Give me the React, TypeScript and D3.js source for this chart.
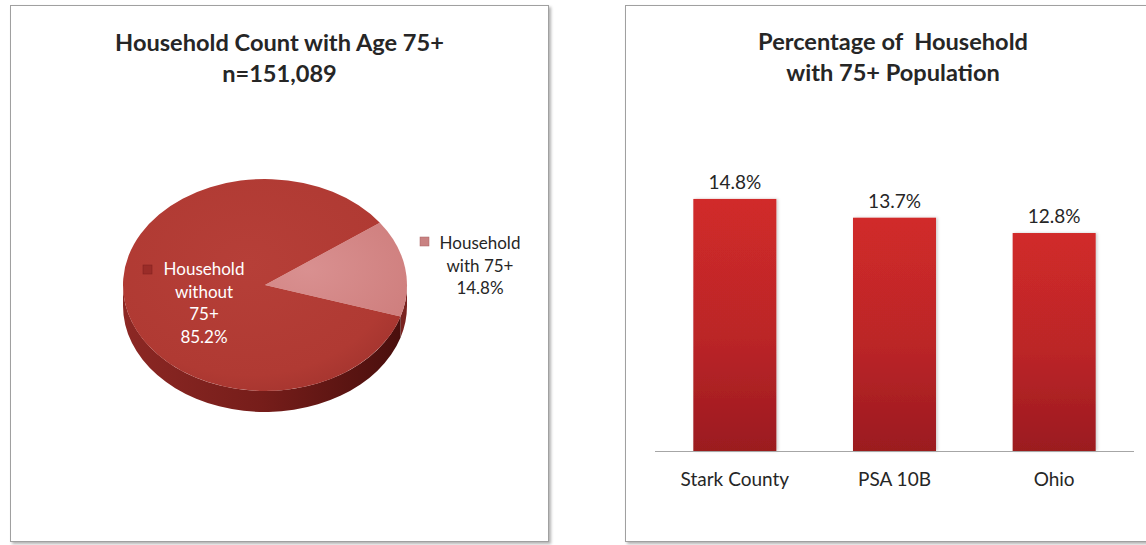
import * as d3 from 'd3';

// Pie data
const pieLabels = ['Household with 75+', 'Household without 75+'];
const pieValues = [14.8, 85.2];

// Bar data
const barCategories = ['Stark County', 'PSA 10B', 'Ohio'];
const barValues = [14.8, 13.7, 12.8];

const W = 1146;
const H = 545;
const FONT = 'Lato, "Open Sans", sans-serif';
const TEXT = '#262626';

function PieChart() {
  const cx = 265;
  const cy = 285;
  const rx = 142;
  const ry = 106;
  const depth = 21;

  const start = (54 * Math.PI) / 180;
  const pie = d3
    .pie<number>()
    .sort(null)
    .startAngle(start)
    .endAngle(start + 2 * Math.PI);
  const arcs = pie(pieValues);

  const pt = (a: number, dy = 0) => [cx + rx * Math.sin(a), cy - ry * Math.cos(a) + dy];

  const topPath = (a0: number, a1: number) => {
    const p0 = pt(a0);
    const p1 = pt(a1);
    const large = a1 - a0 > Math.PI ? 1 : 0;
    return `M${cx},${cy}L${p0[0]},${p0[1]}A${rx},${ry} 0 ${large} 1 ${p1[0]},${p1[1]}Z`;
  };

  // side wall, only the front half (90deg..270deg) is visible
  const sidePath = (a0: number, a1: number) => {
    const segs: string[] = [];
    for (const k of [0, 2 * Math.PI]) {
      const b0 = Math.max(a0, Math.PI / 2 + k);
      const b1 = Math.min(a1, (3 * Math.PI) / 2 + k);
      if (b1 <= b0) continue;
      const p0 = pt(b0);
      const p1 = pt(b1);
      const q0 = pt(b0, depth);
      const q1 = pt(b1, depth);
      segs.push(
        `M${p0[0]},${p0[1]}A${rx},${ry} 0 0 1 ${p1[0]},${p1[1]}L${q1[0]},${q1[1]}A${rx},${ry} 0 0 0 ${q0[0]},${q0[1]}Z`,
      );
    }
    return segs.join('');
  };

  const topFill = ['url(#pieLight)', 'url(#pieDark)'];
  const sideFill = ['#7a2320', 'url(#pieSide)'];

  return (
    <g>
      <defs>
        <radialGradient id='pieDark' cx='0.45' cy='0.4' r='0.7'>
          <stop offset='0%' stopColor='#b63f38' />
          <stop offset='75%' stopColor='#b03a33' />
          <stop offset='100%' stopColor='#a0322d' />
        </radialGradient>
        <radialGradient id='pieLight' cx='0.3' cy='0.5' r='0.8'>
          <stop offset='0%' stopColor='#d99090' />
          <stop offset='100%' stopColor='#cf7f7e' />
        </radialGradient>
        <linearGradient id='pieSide' x1='0' x2='1' y1='0' y2='0'>
          <stop offset='0%' stopColor='#8c2824' />
          <stop offset='50%' stopColor='#761d1a' />
          <stop offset='100%' stopColor='#4a0f0d' />
        </linearGradient>
      </defs>
      {arcs.map((a, i) => (
        <path key={`s${i}`} d={sidePath(a.startAngle, a.endAngle)} fill={sideFill[i]} />
      ))}
      {arcs.map((a, i) => (
        <path key={`t${i}`} d={topPath(a.startAngle, a.endAngle)} fill={topFill[i]} />
      ))}

      {/* label inside: without 75+ */}
      <rect x={143} y={265} width={9} height={9} fill='#9a2c28' stroke='#7d1f1c' strokeWidth={0.5} />
      <text fontFamily={FONT} fontSize={17} fill='#ffffff' textAnchor='middle'>
        {['Household', 'without', '75+', `${pieValues[1]}%`].map((t, i) => (
          <tspan key={i} x={204} y={275 + i * 22.7}>
            {t}
          </tspan>
        ))}
      </text>

      {/* label outside: with 75+ */}
      <rect x={420} y={237} width={9} height={9} fill='#c98282' stroke='#a86060' strokeWidth={0.5} />
      <text fontFamily={FONT} fontSize={17} fill={TEXT} textAnchor='middle'>
        {['Household', 'with 75+', `${pieValues[0]}%`].map((t, i) => (
          <tspan key={i} x={480} y={249 + i * 22.5}>
            {t}
          </tspan>
        ))}
      </text>
    </g>
  );
}

function BarChart() {
  const baseline = 451;
  const x = d3
    .scaleBand<string>()
    .domain(barCategories)
    .range([655, 1134])
    .paddingInner(0.48)
    .paddingOuter(0.24);

  const y = d3.scaleLinear().domain([0, 16]).range([baseline, baseline - 16 * 17.03]);

  return (
    <g>
      <defs>
        <linearGradient id='barGrad' x1='0' x2='0' y1='0' y2='1'>
          <stop offset='0%' stopColor='#d12b29' />
          <stop offset='55%' stopColor='#bb2528' />
          <stop offset='100%' stopColor='#9b1a1f' />
        </linearGradient>
      </defs>
      {barCategories.map((c, i) => (
        <g key={c}>
          <rect
            x={x(c)}
            y={y(barValues[i])}
            width={x.bandwidth()}
            height={baseline - y(barValues[i])}
            fill='url(#barGrad)'
            filter='url(#barShadow)'
          />
          <text
            x={(x(c) ?? 0) + x.bandwidth() / 2}
            y={y(barValues[i]) - 10}
            textAnchor='middle'
            fontFamily={FONT}
            fontSize={19}
            fill={TEXT}
          >
            {barValues[i].toFixed(1)}%
          </text>
          <text
            x={(x(c) ?? 0) + x.bandwidth() / 2}
            y={486}
            textAnchor='middle'
            fontFamily={FONT}
            fontSize={19}
            fill={TEXT}
          >
            {c}
          </text>
        </g>
      ))}
      <line x1={655} x2={1134} y1={baseline + 0.5} y2={baseline + 0.5} stroke='#a6a6a6' strokeWidth={1} />
    </g>
  );
}

export default function App() {
  return (
    <svg
      width={W}
      height={H}
      viewBox={`0 0 ${W} ${H}`}
      style={{ position: 'absolute', left: 0, top: 0, background: '#ffffff' }}
    >
      <defs>
        <filter id='panelShadow' x='-5%' y='-5%' width='115%' height='115%'>
          <feDropShadow dx='2' dy='2' stdDeviation='1.5' floodColor='#000' floodOpacity='0.3' />
        </filter>
        <filter id='barShadow' x='-10%' y='-5%' width='125%' height='110%'>
          <feDropShadow dx='1.5' dy='0' stdDeviation='1.5' floodColor='#000' floodOpacity='0.2' />
        </filter>
      </defs>

      {/* panels */}
      <rect x={10.5} y={5.5} width={538} height={536} fill='#fff' stroke='#a0a0a0' filter='url(#panelShadow)' />
      <rect x={625.5} y={5.5} width={540} height={536} fill='#fff' stroke='#a0a0a0' filter='url(#panelShadow)' />

      {/* left title */}
      <text fontFamily={FONT} fontSize={23.6} fontWeight={700} fill={TEXT} textAnchor='middle'>
        <tspan x={279.5} y={51}>
          Household Count with Age 75+
        </tspan>
        <tspan x={279.5} y={82}>
          n=151,089
        </tspan>
      </text>

      {/* right title */}
      <text
        fontFamily={FONT}
        fontSize={23.6}
        fontWeight={700}
        fill={TEXT}
        textAnchor='middle'
        style={{ whiteSpace: 'pre' }}
      >
        <tspan x={893} y={50}>
          {'Percentage of  Household'}
        </tspan>
        <tspan x={893} y={81}>
          with 75+ Population
        </tspan>
      </text>

      <PieChart />
      <BarChart />
    </svg>
  );
}
